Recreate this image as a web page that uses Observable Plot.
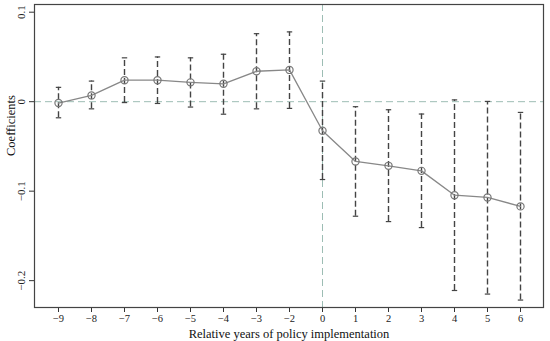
<!DOCTYPE html>
<html>
<head>
<meta charset="utf-8">
<script src="https://cdn.jsdelivr.net/npm/d3@7"></script>
<script src="https://cdn.jsdelivr.net/npm/@observablehq/plot@0.6"></script>
<style>
  html, body { margin: 0; padding: 0; background: #fff; }
  #chart { width: 550px; height: 341px; }
  #chart svg, #chart svg text { font-family: "Liberation Serif", "Times New Roman", "DejaVu Serif", serif !important; }
</style>
</head>
<body>
<div id="chart"></div>
<script>
const years = [-9, -8, -7, -6, -5, -4, -3, -2, 0, 1, 2, 3, 4, 5, 6];
const coef  = [-0.0015, 0.007, 0.024, 0.024, 0.0216, 0.020, 0.034, 0.0355, -0.0325, -0.0668, -0.0717, -0.0773, -0.1045, -0.107, -0.117];
const upper = [0.016, 0.023, 0.049, 0.050, 0.049, 0.053, 0.076, 0.078, 0.023, -0.0056, -0.009, -0.0138, 0.002, 0.0003, -0.012];
const lower = [-0.018, -0.008, -0.001, -0.002, -0.006, -0.014, -0.008, -0.0075, -0.087, -0.128, -0.134, -0.1407, -0.211, -0.215, -0.2217];
const yTicks = [-0.2, -0.1, 0, 0.1];
const xLabel = "Relative years of policy implementation";
const yLabel = "Coefficients";

const data = years.map((y, i) => ({year: y, coef: coef[i], lo: lower[i], hi: upper[i]}));
const minus = s => String(s).replace("-", "\u2212");

const refColor = "#9dbdb4";
const font = "Liberation Serif";

const capSymbol = {
  draw(ctx) {
    ctx.moveTo(-2.7, 0);
    ctx.lineTo(2.7, 0);
  }
};

const chart = Plot.plot({
  width: 550,
  height: 341,
  marginLeft: 34,
  marginRight: 7,
  marginTop: 4,
  marginBottom: 34,
  style: {fontFamily: font, fontSize: "11px", color: "#222", background: "#fff"},
  x: {type: "point", domain: years, padding: 0.5},
  y: {domain: [-0.23, 0.1086]},
  marks: [
    Plot.ruleY([0], {stroke: refColor, strokeDasharray: "7,4", strokeWidth: 1}),
    Plot.ruleX([0], {stroke: refColor, strokeDasharray: "7,4", strokeWidth: 1}),
    Plot.ruleX(data, {x: "year", y1: "lo", y2: "hi", stroke: "#444", strokeWidth: 1.4, strokeDasharray: "6,3"}),
    Plot.dot(data, {x: "year", y: "hi", symbol: capSymbol, stroke: "#444", strokeWidth: 1.2, fill: "none"}),
    Plot.dot(data, {x: "year", y: "lo", symbol: capSymbol, stroke: "#444", strokeWidth: 1.2, fill: "none"}),
    Plot.line(data, {x: "year", y: "coef", stroke: "#888", strokeWidth: 1.3}),
    Plot.dot(data, {x: "year", y: "coef", r: 3.6, stroke: "#777", fill: "none", strokeWidth: 1.2}),
    Plot.axisX({ticks: years, tickSize: 5, tickPadding: 2, tickFormat: minus, label: null, fontSize: 10.5, fontFamily: font, stroke: "#333"}),
    Plot.axisY({ticks: yTicks, tickSize: 5, tickPadding: 5, tickRotate: -90, tickFormat: minus, label: null, fontSize: 11, fontFamily: font, stroke: "#333"}),
    Plot.frame({stroke: "#444", strokeWidth: 1.2}),
    Plot.text([xLabel], {frameAnchor: "bottom", dy: 26, fontSize: 12.5, fontFamily: font, fill: "#111", lineAnchor: "middle"}),
    Plot.text([yLabel], {frameAnchor: "left", dx: -24, rotate: -90, fontSize: 12.5, fontFamily: font, fill: "#111"})
  ]
});
document.getElementById("chart").appendChild(chart);
</script>
</body>
</html>
